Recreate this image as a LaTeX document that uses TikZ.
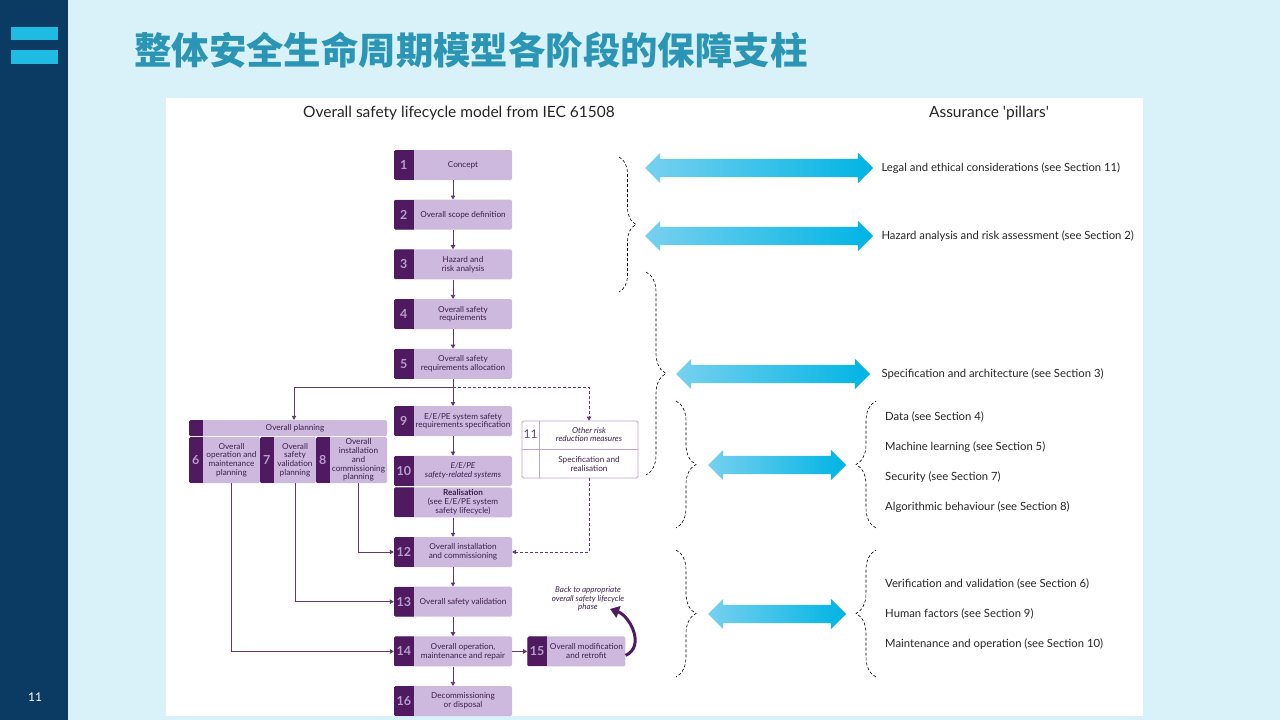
\documentclass[tikz,border=0pt]{standalone}
\usepackage{fontspec}
\setmainfont{Lato}
\newfontfamily\cjk{Noto Sans CJK SC}
\usepackage{xcolor}
\usepackage{tikz}
\usetikzlibrary{arrows.meta,positioning,calc,shapes.arrows,decorations.pathreplacing}
\definecolor{pagebg}{HTML}{D9F1F8}
\definecolor{navy}{HTML}{0B3A62}
\definecolor{barcyan}{HTML}{1FBBE3}
\definecolor{titleteal}{HTML}{2A95B4}
\definecolor{lilac}{HTML}{CDB9DD}
\definecolor{plum}{HTML}{4F1A5F}
\definecolor{numlilac}{HTML}{B99DCC}
\definecolor{inkpurple}{HTML}{3E1F4E}
\definecolor{linepurple}{HTML}{5E3A70}
\definecolor{boxline}{HTML}{BBA4CF}
\definecolor{skylight}{HTML}{78D0EF}
\definecolor{skydeep}{HTML}{00B4E4}
\tikzset{
  strip/.style={path picture={\fill[plum, sharp corners] (path picture bounding box.north west) rectangle ([xshift=#1]path picture bounding box.south west);}},
  stage/.style={fill=lilac, rounded corners=1.5pt, minimum width=118pt, minimum height=30pt, inner sep=0pt, strip=20pt},
  plan/.style={fill=lilac, rounded corners=1.5pt, inner sep=0pt, strip=14pt},
  boxtxt/.style={anchor=center, inner sep=0pt, align=center, text=inkpurple, font=\fontsize{8.2}{8.8}\selectfont},
  stagetxt/.style={boxtxt, xshift=10pt},
  numtxt/.style={anchor=center, inner sep=0pt, text=numlilac, font=\bfseries\fontsize{12.5}{13}\selectfont},
  stagenum/.style={numtxt, xshift=10pt},
  otherbox/.style={draw=boxline, line width=0.8pt, fill=white, rounded corners=1.5pt, minimum width=116pt, minimum height=57pt, inner sep=0pt},
  flow/.style={draw=linepurple, line width=0.8pt, -{Triangle[length=4pt,width=4.5pt]}},
  dashflow/.style={flow, dash pattern=on 3pt off 2pt},
  backarrow/.style={draw=plum, line width=3pt, -{Triangle[length=9pt,width=12pt]}},
  pillar/.style={double arrow, double arrow head extend=6pt, inner xsep=0pt, inner ysep=9pt, left color=skylight, right color=skydeep, draw=none},
  pillartxt/.style={anchor=west, inner sep=0pt, text=black!85, font=\fontsize{11.3}{13}\selectfont},
  hdr/.style={inner sep=0pt, text=black!85, font=\fontsize{15.5}{17}\selectfont},
  brc/.style={decorate, decoration={brace, amplitude=#1}, draw=black, dash pattern=on 3pt off 2pt, line width=0.6pt},
}
\begin{document}
\begin{tikzpicture}[x=1pt, y=-1pt, node distance=19.3pt]
  \useasboundingbox (0,0) rectangle (1280,720);
  % slide background
  \fill[pagebg] (0,0) rectangle (1280,720);
  \fill[navy] (0,0) rectangle (68,720);
  \fill[barcyan] (11,27) rectangle (58,40);
  \fill[barcyan] (11,50) rectangle (58,64);
  \node[text=white, font=\fontsize{12}{12}\selectfont] (pgno) at (35,697) {11};
  \node[anchor=west, inner sep=0pt, text=titleteal, font=\cjk\bfseries\fontsize{37.4}{39}\selectfont] (title) at (134,50) {整体安全生命周期模型各阶段的保障支柱};
  \fill[white] (166,98) rectangle (1143,716);

  \node[hdr] (lhdr) at (459,113) {Overall safety lifecycle model from IEC 61508};
  \node[hdr] (rhdr) at (989,113) {Assurance \textquotesingle pillars\textquotesingle};

  % lifecycle column
  \node[stage, label={[stagenum]west:1}, label={[stagetxt]center:Concept}] (s1) at (453,165) {};
  \node[stage, below=of s1, label={[stagenum]west:2}, label={[stagetxt]center:Overall scope definition}] (s2) {};
  \node[stage, below=of s2, label={[stagenum]west:3}, label={[stagetxt]center:{Hazard and\\risk analysis}}] (s3) {};
  \node[stage, below=of s3, label={[stagenum]west:4}, label={[stagetxt]center:{Overall safety\\requirements}}] (s4) {};
  \node[stage, below=of s4, label={[stagenum]west:5}, label={[stagetxt]center:{Overall safety\\requirements allocation}}] (s5) {};
  \node[stage, below=27pt of s5, label={[stagenum]west:9}, label={[stagetxt]center:{E/E/PE system safety\\requirements specification}}] (s9) {};
  \node[stage, below=of s9, label={[stagenum]west:10}, label={[stagetxt]center:{\textit{E/E/PE}\\\textit{safety-related systems}}}] (s10) {};
  \node[stage, below=1pt of s10, label={[stagetxt]center:{\textbf{Realisation}\\(see E/E/PE system\\safety lifecycle)}}] (r10) {};
  \node[stage, below=of r10, label={[stagenum]west:12}, label={[stagetxt]center:{Overall installation\\and commissioning}}] (s12) {};
  \node[stage, below=of s12, label={[stagenum]west:13}, label={[stagetxt]center:Overall safety validation}] (s13) {};
  \node[stage, below=of s13, label={[stagenum]west:14}, label={[stagetxt]center:{Overall operation,\\maintenance and repair}}] (s14) {};
  \node[stage, below=of s14, label={[stagenum]west:16}, label={[stagetxt]center:{Decommissioning\\or disposal}}] (s16) {};
  \node[stage, right=15pt of s14, minimum width=98pt, label={[stagenum]west:15}, label={[stagetxt]center:{Overall modification\\and retrofit}}] (s15) {};

  % overall planning
  \node[plan, minimum width=198pt, minimum height=16pt, label={[boxtxt, xshift=7pt]center:Overall planning}] (planhd) at (288,428) {};
  \node[plan, minimum width=71pt, minimum height=46pt, label={[numtxt, xshift=7pt]west:6}, label={[boxtxt, xshift=7pt]center:{Overall\\operation and\\maintenance\\planning}}] (p6) at (224.5,460) {};
  \node[plan, minimum width=56pt, minimum height=46pt, label={[numtxt, xshift=7pt]west:7}, label={[boxtxt, xshift=7pt]center:{Overall\\safety\\validation\\planning}}] (p7) at (288,460) {};
  \node[plan, minimum width=71pt, minimum height=46pt, label={[numtxt, xshift=7pt]west:8}, label={[boxtxt, xshift=7pt]center:{Overall\\installation\\and\\commissioning\\planning}}] (p8) at (351.5,460) {};

  % other risk reduction
  \node[otherbox] (s11) at (580,449.5) {};
  \draw[boxline, line width=0.8pt] (s11.west) -- (s11.east);
  \draw[boxline, line width=0.8pt] ([xshift=18pt]s11.north west) -- ([xshift=18pt]s11.south west);
  \node[numtxt, text=inkpurple!80, font=\fontsize{12}{12}\selectfont] (n11) at ($(s11.north west)+(9,14)$) {11};
  \node[boxtxt] (o11a) at ($(s11.north)+(9,14)$) {\textit{Other risk}\\\textit{reduction measures}};
  \node[boxtxt] (o11b) at ($(s11.south)+(9,-14)$) {Specification and\\realisation};

  \node[boxtxt, font=\fontsize{8}{8.6}\selectfont\itshape] (backtxt) at (588,599) {Back to appropriate\\overall safety lifecycle\\phase};
  \coordinate (backtip) at (610,609);

  % connectors
  \foreach \a/\b in {s1/s2, s2/s3, s3/s4, s4/s5, s5/s9, s9/s10, r10/s12, s12/s13, s13/s14, s14/s16, s14/s15}
    \draw[flow] (\a) -- (\b);
  \coordinate (split) at ([yshift=-8pt]s5.south);
  \draw[flow] (split) -| ([xshift=6pt]planhd.north);
  \draw[dashflow] (split) -| ([xshift=9pt]s11.north);
  \draw[flow] ([xshift=7pt]p6.south) |- (s14);
  \draw[flow] ([xshift=7pt]p7.south) |- (s13);
  \draw[flow] ([xshift=7pt]p8.south) |- (s12);
  \draw[dashflow] ([xshift=9pt]s11.south) |- (s12);
  \draw[backarrow] ([yshift=-4pt]s15.east) .. controls +(20,-9) and +(20,7) .. (backtip);

  % assurance pillars
  \node[pillar, minimum height=228pt] (pa1) at (759,168) {};
  \node[pillar, minimum height=228pt] (pa2) at (759,236) {};
  \node[pillar, minimum height=194pt] (pa3) at (773,374) {};
  \node[pillar, minimum height=138pt] (pa4) at (777,465) {};
  \node[pillar, minimum height=138pt] (pa5) at (777,614) {};
  \node[pillartxt, right=8pt of pa1] (t1) {Legal and ethical considerations (see Section 11)};
  \node[pillartxt, right=8pt of pa2] (t2) {Hazard analysis and risk assessment (see Section 2)};
  \node[pillartxt, right=11pt of pa3] (t3) {Specification and architecture (see Section 3)};
  \node[pillartxt] (t4) at (885,417) {Data (see Section 4)};
  \node[pillartxt] (t5) at (885,447) {Machine learning (see Section 5)};
  \node[pillartxt] (t6) at (885,477) {Security (see Section 7)};
  \node[pillartxt] (t7) at (885,507) {Algorithmic behaviour (see Section 8)};
  \node[pillartxt] (t8) at (885,584) {Verification and validation (see Section 6)};
  \node[pillartxt] (t9) at (885,614) {Human factors (see Section 9)};
  \node[pillartxt] (t10) at (885,644) {Maintenance and operation (see Section 10)};

  % braces
  \draw[brc=17pt] (619,157) -- (619,292);
  \draw[brc=20pt] (646,272) -- (646,475);
  \draw[brc=20pt] (676,401) -- (676,528);
  \draw[brc=20pt] (676,550) -- (676,677);
  \draw[brc=20pt] (876,528) -- (876,401);
  \draw[brc=20pt] (876,677) -- (876,550);
\end{tikzpicture}
\end{document}
